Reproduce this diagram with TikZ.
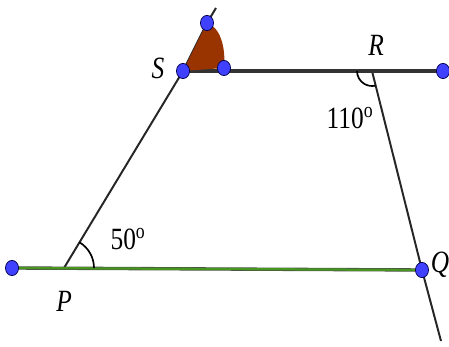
\documentclass[tikz,border=0pt]{standalone}
\usepackage{fontspec}
\setmainfont{Liberation Serif}
\usepackage{tikz}
\usetikzlibrary{calc,shapes.geometric}

\definecolor{dotblue}{RGB}{64,64,255}
\definecolor{linegreen}{RGB}{70,150,30}
\definecolor{triabrown}{RGB}{153,51,0}

\begin{document}
\begin{tikzpicture}[x=0.025cm, y=0.025cm,
	every node/.style={font=\fontsize{22}{24}\selectfont, xscale=0.82, transform shape},
	dot/.style={draw=blue!30!black, line width=0.5pt, fill=dotblue, ellipse, minimum width=0.4cm, minimum height=0.38cm, inner sep=0pt},
	seg/.style={line width=1.4pt, black!85}]
	\useasboundingbox (0,0) rectangle (449,347);
	% points
	\coordinate (A) at (12,79);
	\coordinate (P) at (64,79);
	\coordinate (Q) at (422,77);
	\coordinate (S) at (183,276);
	\coordinate (T) at (207,324);
	\coordinate (Top) at (216,339);
	\coordinate (M) at (224,279);
	\coordinate (B) at (443,276);
	\coordinate (R) at (372,276);
	\coordinate (Bot) at (441,6);
	% lines
	\draw[seg] (P) -- (S) -- (T) -- (Top);
	\draw[seg] (R) -- (Q) -- (Bot);
	\draw[line width=2.2pt, black!80] (S) -- (B);
	\draw[line width=2.4pt, black!70] (A) -- (Q);
	\draw[line width=1.6pt, linegreen] (A) -- (Q);
	\fill[triabrown] (S) -- (T) .. controls (220,320) and (226,300) .. (M) -- cycle;
	% angles
	\draw[line width=1.2pt] ($(P)+(30,0)$) arc (0:59:30);
	\draw[line width=1.2pt] ($(R)+(-15,0)$) arc (180:284:15);
	% dots
	\foreach \p in {A,Q,S,T,M,B}
		\node[dot] (d\p) at (\p) {};
	% labels
	\node (lS) at (158,279) {\textit{S}};
	\node (lR) at (376,302) {\textit{R}};
	\node (lP) at (64,46) {\textit{P}};
	\node (lQ) at (440,82) {\textit{Q}};
	\node (l110) at (350,229) {110\textsuperscript{o}};
	\node (l50) at (128,108) {50\textsuperscript{o}};
\end{tikzpicture}
\end{document}
